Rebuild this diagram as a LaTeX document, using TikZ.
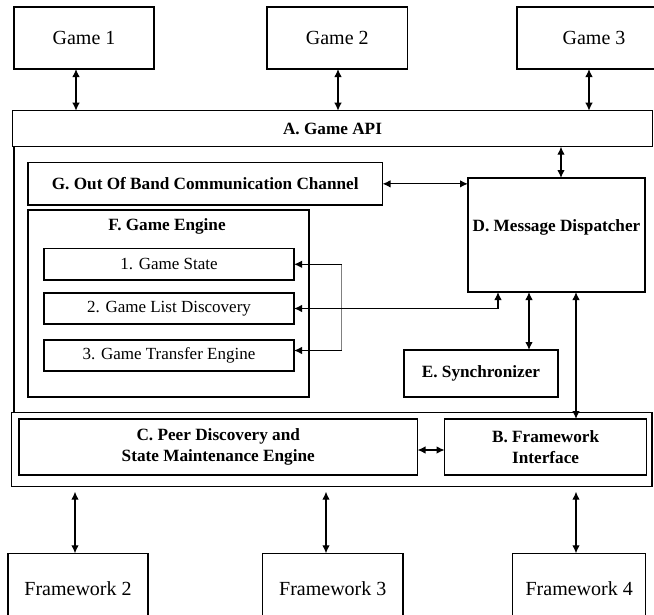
\documentclass[tikz,border=0pt]{standalone}
\usepackage{fontspec}
\setmainfont{Liberation Serif}
\usetikzlibrary{arrows.meta,calc}
\begin{document}
\begin{tikzpicture}[x=1pt,y=-1pt,
  box/.style={draw,line width=1.1pt,inner sep=0pt,outer sep=0pt,anchor=north west,align=center},
  bigtxt/.style={font=\fontsize{20}{22}\selectfont},
  midtxt/.style={font=\fontsize{17}{19}\selectfont},
  boldtxt/.style={font=\fontsize{17.2}{20.5}\selectfont\bfseries},
  conn/.style={line width=1.2pt},
  dbl/.style={conn,{Latex[length=8pt,width=7.5pt]}-{Latex[length=8pt,width=7.5pt]}},
  sarr/.style={conn,-{Latex[length=8pt,width=7.5pt]}},
  grayline/.style={line width=1.2pt,draw=black!50}]
\useasboundingbox (0,0) rectangle (654,614);
\clip (0,0) rectangle (654,614);
% top games
\node[box,bigtxt,minimum width=140pt,minimum height=62pt] (g1) at (14,7) {Game 1};
\node[box,bigtxt,minimum width=140.5pt,minimum height=62pt] (g2) at (267,7) {Game 2};
\node[box,bigtxt,minimum width=154pt,minimum height=62pt] (g3) at (517,7) {Game 3};
% game API
\node[box,boldtxt,minimum width=640pt,minimum height=36pt] (api) at (12.5,110.7) {A. Game API};
% G
\node[box,boldtxt,minimum width=354.5pt,minimum height=42.3pt] (oob) at (28,162.7) {G. Out Of Band Communication Channel};
% F
\node[box,minimum width=281pt,minimum height=187pt] (feng) at (28,210) {};
\node[boldtxt,inner sep=0pt] (flabel) at (167,226) {F. Game Engine};
\node[box,midtxt,minimum width=250pt,minimum height=31.3pt] (s1) at (44,248.7) {1. Game State};
\node[box,midtxt,minimum width=250pt,minimum height=31pt] (s2) at (44,293) {2. Game List Discovery};
\node[box,midtxt,minimum width=250pt,minimum height=31pt] (s3) at (44,340) {3. Game Transfer Engine};
% D
\node[box,minimum width=177pt,minimum height=114pt] (disp) at (468,178) {};
\node[boldtxt,inner sep=0pt] (dlabel) at (556.5,227) {D. Message Dispatcher};
% E
\node[box,boldtxt,minimum width=154pt,minimum height=47pt] (sync) at (404,350) {E. Synchronizer};
% bottom container
\node[box,minimum width=640.3pt,minimum height=74pt] (cont) at (11.7,412.7) {};
\node[box,boldtxt,minimum width=398.5pt,minimum height=56pt] (peer) at (19,419) {C. Peer Discovery and\\State Maintenance Engine};
\node[box,boldtxt,minimum width=202pt,minimum height=56pt] (fwi) at (444.6,419) {B. Framework\\Interface};
% frameworks
\node[box,bigtxt,minimum width=140pt,minimum height=70pt] (fw2) at (8,553.3) {Framework 2};
\node[box,bigtxt,minimum width=140.5pt,minimum height=70pt] (fw3) at (262.5,553.3) {Framework 3};
\node[box,bigtxt,minimum width=133pt,minimum height=70pt] (fw4) at (512.7,553.3) {Framework 4};
% helper coordinates
\coordinate (xa) at (76,0);
\coordinate (xb) at (338,0);
\coordinate (xc) at (589,0);
\coordinate (xd) at (561,0);
\coordinate (xL) at (14,0);
\coordinate (xl) at (498,0);
\coordinate (xe) at (529,0);
\coordinate (xf) at (576,0);
\coordinate (xg) at (75,0);
\coordinate (xh) at (326,0);
\coordinate (xi) at (576,0);
\coordinate (yc) at (0,450);
\coordinate (b1) at (341.7,264.3);
\coordinate (b2) at (341.7,350.5);
% outer left line
\draw[conn] (api.south -| xL) -- (cont.north -| xL);
% connectors
\draw[dbl] (g1.south -| xa) -- (api.north -| xa);
\draw[dbl] (g2.south -| xb) -- (api.north -| xb);
\draw[dbl] (g3.south -| xc) -- (api.north -| xc);
\draw[dbl] (api.south -| xd) -- (disp.north -| xd);
\draw[dbl] (oob.east) -- (oob.east -| disp.west);
\draw[grayline] (b1) -- (b2);
\draw[sarr] (b1) -- (s1.east |- b1);
\draw[sarr] (b2) -- (s3.east |- b2);
\draw[dbl] (disp.south -| xl) |- (s2.east);
\draw[dbl] (disp.south -| xe) -- (sync.north -| xe);
\draw[dbl] (disp.south -| xf) -- (fwi.north -| xf);
\draw[dbl] (peer.east |- yc) -- (fwi.west |- yc);
\draw[dbl] ([yshift=-5pt]cont.south -| xg) -- (fw2.north -| xg);
\draw[dbl] ([yshift=-5pt]cont.south -| xh) -- (fw3.north -| xh);
\draw[dbl] ([yshift=-5pt]cont.south -| xi) -- (fw4.north -| xi);
\end{tikzpicture}
\end{document}
